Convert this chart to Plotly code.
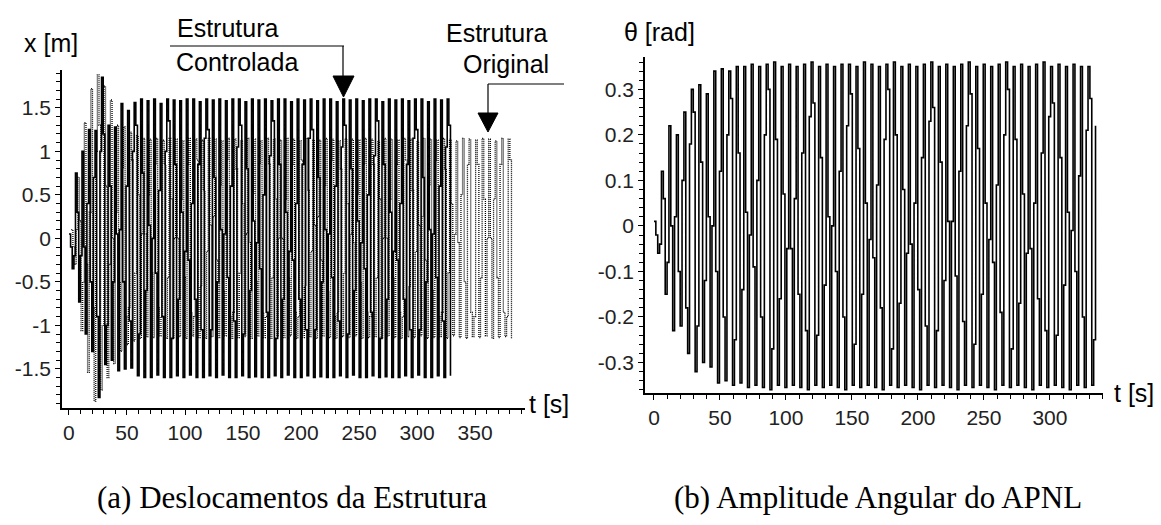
import numpy as np
import plotly.graph_objects as go

# ---------------------------------------------------------------
# Data. Each list holds one turning value per
# oscillation cycle (peak, value after the peak, trough, value after
# the trough); the samples sit a quarter period apart.
# ---------------------------------------------------------------
period_x = 5.62      # s, left panel
period_theta = 5.67  # s, right panel
t0_ctrl = 0.0
t0_orig = 2.0
t0_theta = 0.0

# (a) structure displacement x [m], controlled structure (solid line)
ctrl_hi = [0.05, 0.75, 1.0, 1.25, 1.24, 1.85, 1.3, 1.28, 1.55, 1.47,
           1.56, 1.6, 1.58, 1.6, 1.55, 1.6, 1.59, 1.58, 1.6, 1.6,
           1.57, 1.6, 1.59, 1.6, 1.58, 1.6, 1.6, 1.57, 1.6, 1.59,
           1.6, 1.58, 1.6, 1.6, 1.57, 1.6, 1.59, 1.6, 1.58, 1.6,
           1.6, 1.57, 1.6, 1.59, 1.6, 1.58, 1.6, 1.6, 1.57, 1.6,
           1.59, 1.6, 1.58, 1.6, 1.6, 1.57, 1.6, 1.59, 1.6]
ctrl_mid_down = [-0.1, 0.3, -0.1, -0.5, -0.9, 1.2, 0.6, 0.05, -0.5, -0.95,
                 1.3, 0.75, 0.15, -0.4, -0.9,
                 1.35, 0.85, 0.3, -0.25, -0.7, -1.05,
                 1.25, 0.7, 0.1, -0.45, -0.95,
                 1.3, 0.8, 0.2, -0.35, -0.85,
                 1.35, 0.85, 0.3, -0.25, -0.7, -1.05,
                 1.25, 0.7, 0.1, -0.45, -0.95,
                 1.3, 0.8, 0.2, -0.35, -0.85,
                 1.35, 0.85, 0.3, -0.25, -0.7, -1.05,
                 1.25, 0.7, 0.1, -0.45, -0.95, 1.3]
ctrl_lo = [-0.35, -0.73, -1.1, -1.3, -1.83, -1.45, -1.4, -1.52, -1.5, -1.49,
           -1.58, -1.6, -1.6, -1.57, -1.6, -1.6, -1.58, -1.6, -1.57, -1.6,
           -1.6, -1.58, -1.6, -1.57, -1.6, -1.6, -1.58, -1.6, -1.59, -1.6,
           -1.6, -1.58, -1.6, -1.57, -1.6, -1.6, -1.58, -1.6, -1.59, -1.6,
           -1.6, -1.58, -1.6, -1.57, -1.6, -1.6, -1.58, -1.6, -1.59, -1.6,
           -1.6, -1.58, -1.6, -1.57, -1.6, -1.6, -1.58, -1.6, -1.58]
ctrl_mid_up = [-0.2, -0.2, 0.4, 0.7, 1.0, -1.0, -0.5, 0.1, 0.6, 1.0,
               -1.1, -0.6, 0.0, 0.55, 1.0,
               -1.15, -0.7, -0.15, 0.4, 0.85, 1.15,
               -1.05, -0.5, 0.05, 0.6, 1.05,
               -1.1, -0.6, -0.05, 0.5, 0.95,
               -1.15, -0.7, -0.15, 0.4, 0.85, 1.15,
               -1.05, -0.5, 0.05, 0.6, 1.05,
               -1.1, -0.6, -0.05, 0.5, 0.95,
               -1.15, -0.7, -0.15, 0.4, 0.85, 1.15,
               -1.05, -0.5, 0.05, 0.6, 1.05]

# (a) structure displacement x [m], original structure (dotted line)
orig_hi = [0.1, 0.7, 1.33, 1.72, 1.88, 1.75, 1.59, 1.3, 1.28, 1.22,
           1.18, 1.15, 1.14, 1.15, 1.13, 1.15, 1.14, 1.12, 1.15, 1.14,
           1.13, 1.15, 1.14, 1.12, 1.15, 1.14, 1.13, 1.15, 1.14, 1.12,
           1.15, 1.14, 1.13, 1.15, 1.14, 1.12, 1.15, 1.14, 1.13, 1.15,
           1.14, 1.12, 1.15, 1.14, 1.13, 1.15, 1.14, 1.12, 1.15, 1.14,
           1.13, 1.15, 1.14, 1.12, 1.15, 1.14, 1.13, 1.15, 1.14, 1.12,
           1.15, 1.14, 1.13, 1.15, 1.14, 1.12, 1.15, 1.14]
orig_mid_down = [-0.1, 0.2, -0.3, -0.8, 1.3, 0.6, 0.0, -0.5, -0.9, 0.9,
                 0.5, 0.05, -0.4, -0.8,
                 0.85, 0.45, 0.0, -0.45, -0.85,
                 0.9, 0.55, 0.15, -0.25, -0.6, -0.9,
                 0.8, 0.4, -0.05, -0.5, -0.85,
                 0.85, 0.45, 0.0, -0.45, -0.85,
                 0.9, 0.55, 0.15, -0.25, -0.6, -0.9,
                 0.8, 0.4, -0.05, -0.5, -0.85,
                 0.85, 0.45, 0.0, -0.45, -0.85,
                 0.9, 0.55, 0.15, -0.25, -0.6, -0.9,
                 0.8, 0.4, -0.05, -0.5, -0.85,
                 0.85, 0.45, 0.0, -0.45, -0.85, 0.9]
orig_lo = [-0.3, -1.06, -1.54, -1.87, -1.74, -1.6, -1.44, -1.3, -1.22, -1.18,
           -1.15, -1.13, -1.14, -1.12, -1.15, -1.14, -1.13, -1.15, -1.12, -1.14,
           -1.15, -1.13, -1.14, -1.12, -1.15, -1.14, -1.13, -1.15, -1.12, -1.14,
           -1.15, -1.13, -1.14, -1.12, -1.15, -1.14, -1.13, -1.15, -1.12, -1.14,
           -1.15, -1.13, -1.14, -1.12, -1.15, -1.14, -1.13, -1.15, -1.12, -1.14,
           -1.15, -1.13, -1.14, -1.12, -1.15, -1.14, -1.13, -1.15, -1.12, -1.14,
           -1.15, -1.13, -1.14, -1.12, -1.15, -1.14, -1.13, -1.15]
orig_mid_up = [0.1, -0.5, 0.3, 1.0, -1.0, -0.3, 0.3, 0.8, -0.8, -0.4,
               0.05, 0.5, 0.85, -0.9,
               -0.45, 0.0, 0.45, 0.85, -0.9,
               -0.55, -0.15, 0.25, 0.6, 0.9, -0.85,
               -0.4, 0.05, 0.5, 0.85, -0.9,
               -0.45, 0.0, 0.45, 0.85, -0.9,
               -0.55, -0.15, 0.25, 0.6, 0.9, -0.85,
               -0.4, 0.05, 0.5, 0.85, -0.9,
               -0.45, 0.0, 0.45, 0.85, -0.9,
               -0.55, -0.15, 0.25, 0.6, 0.9, -0.85,
               -0.4, 0.05, 0.5, 0.85, -0.9,
               -0.45, 0.0, 0.45, 0.85, -0.9]

# (b) pendulum angle theta [rad]
theta_hi = [0.01, 0.12, 0.22, 0.20, 0.25, 0.30, 0.31, 0.29, 0.34, 0.345,
            0.34, 0.35, 0.35, 0.355, 0.35, 0.355, 0.36, 0.35, 0.355, 0.35,
            0.355, 0.36, 0.35, 0.355, 0.35, 0.355, 0.355, 0.35, 0.36, 0.355,
            0.35, 0.355, 0.36, 0.35, 0.355, 0.35, 0.355, 0.36, 0.35, 0.355,
            0.35, 0.355, 0.36, 0.35, 0.355, 0.35, 0.355, 0.36, 0.35, 0.355,
            0.35, 0.355, 0.36, 0.35, 0.355, 0.35, 0.355, 0.35, 0.35, 0.22]
theta_mid_down = [-0.02, 0.06, 0.0, -0.1, -0.18,
                  0.25, 0.14, 0.02, -0.1, -0.2,
                  0.28, 0.16, 0.03, -0.09, -0.2,
                  0.3, 0.19, 0.07, -0.05, -0.15, -0.23,
                  0.27, 0.15, 0.02, -0.1, -0.2,
                  0.29, 0.17, 0.05, -0.07, -0.18,
                  0.3, 0.2, 0.08, -0.04, -0.14, -0.22,
                  0.26, 0.14, 0.01, -0.11, -0.21,
                  0.29, 0.17, 0.05, -0.08, -0.19,
                  0.3, 0.19, 0.07, -0.05, -0.16, -0.23,
                  0.27, 0.15, 0.03, -0.1, -0.2, 0.28]
theta_lo = [-0.06, -0.15, -0.23, -0.22, -0.28, -0.32, -0.30, -0.31, -0.345, -0.34,
            -0.35, -0.345, -0.355, -0.35, -0.355, -0.36, -0.35, -0.355, -0.35, -0.355,
            -0.36, -0.35, -0.355, -0.35, -0.355, -0.36, -0.35, -0.355, -0.35, -0.355,
            -0.36, -0.35, -0.355, -0.35, -0.355, -0.36, -0.35, -0.355, -0.35, -0.355,
            -0.36, -0.35, -0.355, -0.35, -0.355, -0.36, -0.35, -0.355, -0.35, -0.355,
            -0.36, -0.35, -0.355, -0.35, -0.355, -0.36, -0.35, -0.355, -0.35]
theta_mid_up = [-0.04, -0.08, 0.02, 0.1, 0.18,
                -0.22, -0.12, 0.0, 0.12, 0.2,
                -0.25, -0.14, -0.02, 0.1, 0.2,
                -0.27, -0.16, -0.05, 0.06, 0.16, 0.24,
                -0.24, -0.13, 0.0, 0.12, 0.22,
                -0.26, -0.15, -0.03, 0.09, 0.19,
                -0.27, -0.17, -0.06, 0.05, 0.15, 0.23,
                -0.23, -0.12, 0.01, 0.12, 0.22,
                -0.26, -0.15, -0.03, 0.09, 0.2,
                -0.27, -0.17, -0.06, 0.05, 0.16, 0.24,
                -0.24, -0.13, -0.01, 0.11, 0.21, -0.25]

# tick labels (hyphen minus, as printed)
x_ticks_a = [0, 50, 100, 150, 200, 250, 300, 350]
y_ticks_a = [-1.5, -1, -0.5, 0, 0.5, 1, 1.5]
y_text_a = ["-1.5", "-1", "-0.5", "0", "0.5", "1", "1.5"]
x_ticks_b = [0, 50, 100, 150, 200, 250, 300]
y_ticks_b = [-0.3, -0.2, -0.1, 0, 0.1, 0.2, 0.3]
y_text_b = ["-0.3", "-0.2", "-0.1", "0", "0.1", "0.2", "0.3"]


def turning_points(hi, mid_down, lo, mid_up, t0, period):
    # interleave per-cycle values: peak, after-peak, trough, after-trough
    vals = []
    for k in range(len(hi)):
        for seq in (hi, mid_down, lo, mid_up):
            if k < len(seq):
                vals.append(seq[k])
    t = t0 + np.arange(len(vals)) * period / 4.0
    return t, vals


t_ctrl, x_ctrl = turning_points(ctrl_hi, ctrl_mid_down, ctrl_lo, ctrl_mid_up, t0_ctrl, period_x)
t_orig, x_orig = turning_points(orig_hi, orig_mid_down, orig_lo, orig_mid_up, t0_orig, period_x)
t_th, th = turning_points(theta_hi, theta_mid_down, theta_lo, theta_mid_up, t0_theta, period_theta)

# the page body has an 8 px margin: size the figure so it fits the window
# and convert reference pixel positions into paper fractions
PAD = 8
W, H = 1161 - 2 * PAD, 525 - 2 * PAD


def px(x):
    return (x - PAD) / W


def py(y):
    return 1 - (y - PAD) / H


fig = go.Figure()

# step drawing gives the vertical strokes of the printed plot
fig.add_trace(go.Scatter(x=t_orig, y=x_orig, mode="lines", line_shape="hv",
                         line=dict(color="black", width=1.3, dash="1px,1px"),
                         xaxis="x", yaxis="y", name="Estrutura Original"))
fig.add_trace(go.Scatter(x=t_ctrl, y=x_ctrl, mode="lines", line_shape="hv",
                         line=dict(color="black", width=1.6),
                         xaxis="x", yaxis="y", name="Estrutura Controlada"))
fig.add_trace(go.Scatter(x=t_th, y=th, mode="lines", line_shape="hv",
                         line=dict(color="black", width=1.6),
                         xaxis="x2", yaxis="y2", name="theta"))

tick_font = dict(family="Liberation Sans, Arial, sans-serif", size=21, color="#222")
axis_common = dict(showgrid=False, zeroline=False, showline=True, linecolor="black",
                   linewidth=1.5, ticks="outside", ticklen=5, tickwidth=1,
                   tickcolor="black", tickfont=tick_font, fixedrange=True)

fig.update_layout(
    width=W, height=H,
    margin=dict(l=0, r=0, t=0, b=0),
    paper_bgcolor="white", plot_bgcolor="white",
    showlegend=False,
    xaxis=dict(domain=[px(62), px(525)], range=[-6, 393], anchor="y",
               tickmode="array", tickvals=x_ticks_a,
               minor=dict(tickmode="linear", tick0=0, dtick=10, ticks="outside",
                          ticklen=4, tickcolor="black"),
               **axis_common),
    yaxis=dict(domain=[py(408), py(70)], range=[-1.95, 1.935], anchor="x",
               tickmode="array", tickvals=y_ticks_a, ticktext=y_text_a,
               minor=dict(tickmode="linear", tick0=0, dtick=0.1, ticks="outside",
                          ticklen=4, tickcolor="black"),
               **axis_common),
    xaxis2=dict(domain=[px(645), px(1103)], range=[-6.8, 340.2], anchor="y2",
                tickmode="array", tickvals=x_ticks_b,
                minor=dict(tickmode="linear", tick0=0, dtick=10, ticks="outside",
                           ticklen=4, tickcolor="black"),
                **axis_common),
    yaxis2=dict(domain=[py(393), py(57)], range=[-0.367, 0.371], anchor="x2",
                tickmode="array", tickvals=y_ticks_b, ticktext=y_text_b,
                minor=dict(tickmode="linear", tick0=0, dtick=0.02, ticks="outside",
                           ticklen=4, tickcolor="black"),
                **axis_common),
)

label_font = dict(family="Liberation Sans, Arial, sans-serif", size=25, color="black")
cap_font = dict(family="Liberation Serif, Times New Roman, serif", size=31, color="black")

texts = [
    ("x [m]", 22, 43, "left", label_font),
    ("\u03b8 [rad]", 622, 32, "left", label_font),
    ("t [s]", 527, 404, "left", label_font),
    ("t [s]", 1112, 393, "left", label_font),
    ("Estrutura", 175, 28, "left", label_font),
    ("Controlada", 174, 62, "left", label_font),
    ("Estrutura", 444, 33, "left", label_font),
    ("Original", 461, 64, "left", label_font),
    ("(a) Deslocamentos da Estrutura", 292, 497, "center", cap_font),
    ("(b) Amplitude Angular do APNL", 878, 497, "center", cap_font),
]
for txt, x, y, anc, f in texts:
    fig.add_annotation(text=txt, x=px(x), y=py(y), xref="paper", yref="paper",
                       xanchor=anc, yanchor="middle", showarrow=False, font=f)

line_style = dict(color="black", width=1.2)
# call-out for the controlled structure
fig.add_shape(type="line", xref="paper", yref="paper",
              x0=px(170), y0=py(46), x1=px(344), y1=py(46), line=line_style)
fig.add_shape(type="line", xref="paper", yref="paper",
              x0=px(343), y0=py(46), x1=px(343), y1=py(78), line=line_style)
fig.add_shape(type="path", xref="paper", yref="paper",
              path=f"M {px(333)},{py(76)} L {px(354)},{py(76)} L {px(343.5)},{py(97)} Z",
              fillcolor="black", line=dict(color="black", width=1))
# call-out for the original structure
fig.add_shape(type="line", xref="paper", yref="paper",
              x0=px(488), y0=py(84), x1=px(564), y1=py(84), line=line_style)
fig.add_shape(type="line", xref="paper", yref="paper",
              x0=px(488), y0=py(84), x1=px(488), y1=py(115), line=line_style)
fig.add_shape(type="path", xref="paper", yref="paper",
              path=f"M {px(478)},{py(113)} L {px(498)},{py(113)} L {px(488)},{py(132)} Z",
              fillcolor="black", line=dict(color="black", width=1))

fig.write_html("out.html")
